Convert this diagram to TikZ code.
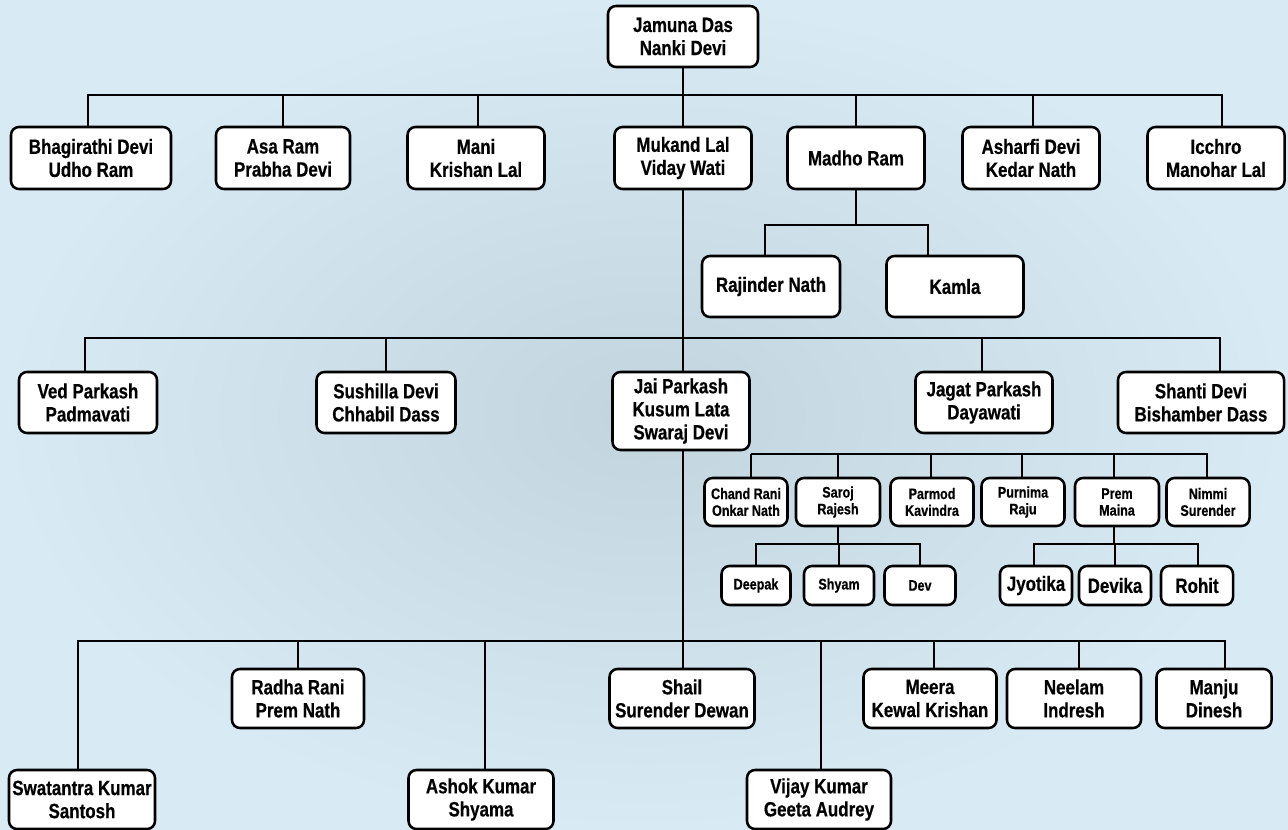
\documentclass[tikz,border=0pt]{standalone}
\usepackage{fontspec}
\setmainfont{Liberation Sans}[FakeStretch=0.82, BoldFeatures={FakeBold=0.5}]
\definecolor{bgout}{RGB}{216,234,244}
\definecolor{bgin}{RGB}{194,212,221}
\tikzset{
  box/.style={draw=black, line width=1.9pt, rounded corners=6pt, fill=white,
    align=center, inner sep=0pt, font=\bfseries\fontsize{15.5}{17.3}\selectfont},
  sbox/.style={box, font=\bfseries\fontsize{11.5}{12.6}\selectfont},
  bw/.style={minimum width=#1*0.75pt},
  bh/.style={minimum height=#1*0.75pt},
  conn/.style={draw=black, line width=1.9pt},
  sx/.style={xshift=#1*0.75pt}
}
\begin{document}
\begin{tikzpicture}[x=0.75pt,y=-0.75pt]
\useasboundingbox (0,0) rectangle (1288,830);
\shade[inner color=bgin, outer color=bgout] (0,0) rectangle (1288,830);
% generation 0
\node[box,bw=150,bh=61] (top) at (683,36.5) {Jamuna Das\\Nanki Devi};
% generation 1
\node[box,bw=160,bh=62] (bhag) at (91,158) {Bhagirathi Devi\\Udho Ram};
\node[box,bw=134,bh=62] (asa) at (283,158) {Asa Ram\\Prabha Devi};
\node[box,bw=137,bh=62] (mani) at (476,158) {Mani\\Krishan Lal};
\node[box,bw=137,bh=62] (mukand) at (683,158) {Mukand Lal\\Viday Wati};
\node[box,bw=137,bh=62] (madho) at (856,158) {Madho Ram};
\node[box,bw=137,bh=62] (asharfi) at (1031,158) {Asharfi Devi\\Kedar Nath};
\node[box,bw=137,bh=62] (icchro) at (1216,158) {Icchro\\Manohar Lal};
% Madho's children
\node[box,bw=138,bh=61] (rajinder) at (771,286.5) {Rajinder Nath};
\node[box,bw=137,bh=61] (kamla) at (955,286.5) {Kamla};
% Mukand's children
\node[box,bw=138,bh=61] (ved) at (88,402.5) {Ved Parkash\\Padmavati};
\node[box,bw=139,bh=61] (sush) at (386,402.5) {Sushilla Devi\\Chhabil Dass};
\node[box,bw=137,bh=78] (jai) at (681,411) {Jai Parkash\\Kusum Lata\\Swaraj Devi};
\node[box,bw=137,bh=61] (jagat) at (984,402.5) {Jagat Parkash\\Dayawati};
\node[box,bw=166,bh=61] (shanti) at (1201,402.5) {Shanti Devi\\Bishamber Dass};
% small row
\node[sbox,bw=83,bh=48] (chand) at (746,502) {Chand Rani\\Onkar Nath};
\node[sbox,bw=84,bh=48] (saroj) at (838,502) {Saroj\\Rajesh};
\node[sbox,bw=83,bh=48] (parmod) at (932,502) {Parmod\\Kavindra};
\node[sbox,bw=83,bh=48] (purnima) at (1023,502) {Purnima\\Raju};
\node[sbox,bw=84,bh=48] (prem) at (1117,502) {Prem\\Maina};
\node[sbox,bw=83,bh=48] (nimmi) at (1208,502) {Nimmi\\Surender};
% grandchildren
\node[sbox,bw=69,bh=39] (deepak) at (756,585.5) {Deepak};
\node[sbox,bw=70,bh=39] (shyam) at (839,585.5) {Shyam};
\node[sbox,bw=71,bh=39] (dev) at (920,585.5) {Dev};
\node[box,bw=72,bh=39] (jyotika) at (1036,585.5) {Jyotika};
\node[box,bw=72,bh=39] (devika) at (1115,585.5) {Devika};
\node[box,bw=72,bh=39] (rohit) at (1197,585.5) {Rohit};
% bottom rows
\node[box,bw=132,bh=59] (radha) at (298,698.5) {Radha Rani\\Prem Nath};
\node[box,bw=145,bh=59] (shail) at (682,698.5) {Shail\\Surender Dewan};
\node[box,bw=133,bh=59] (meera) at (930,698.5) {Meera\\Kewal Krishan};
\node[box,bw=134,bh=59] (neelam) at (1074,698.5) {Neelam\\Indresh};
\node[box,bw=115,bh=59] (manju) at (1214,698.5) {Manju\\Dinesh};
\node[box,bw=146,bh=59] (swat) at (82,799.5) {Swatantra Kumar\\Santosh};
\node[box,bw=145,bh=59] (ashok) at (481,799.5) {Ashok Kumar\\Shyama};
\node[box,bw=144,bh=59] (vijay) at (819,799.5) {Vijay Kumar\\Geeta Audrey};
% bar junctions
\coordinate (b1) at (683,95);
\coordinate (bm) at (856,225);
\coordinate (b2) at (683,338);
\coordinate (b3) at (751,454);
\coordinate (bs) at (838,544);
\coordinate (bp) at (1114,544);
\coordinate (b4) at (683,641);
% connectors
\draw[conn] (top.south) -- (b1);
\foreach \c/\s in {bhag/-3,asa/0,mani/2,mukand/0,madho/0,asharfi/2,icchro/6}
  \draw[conn] ([sx=\s]\c.north) |- (b1);
\draw[conn] (madho.south) -- (bm);
\foreach \c/\s in {rajinder/-6,kamla/-27}
  \draw[conn] ([sx=\s]\c.north) |- (bm);
\draw[conn] (mukand.south) -- (b2);
\foreach \c/\s in {ved/-3,sush/0,jai/2,jagat/-2,shanti/19}
  \draw[conn] ([sx=\s]\c.north) |- (b2);
\foreach \c/\s in {chand/5,saroj/0,parmod/-1,purnima/-1,prem/-3,nimmi/-1}
  \draw[conn] ([sx=\s]\c.north) |- (b3);
\draw[conn] (saroj.south) -- (bs);
\foreach \c/\s in {deepak/0,shyam/0,dev/0}
  \draw[conn] ([sx=\s]\c.north) |- (bs);
\draw[conn] ([sx=-3]prem.south) -- (bp);
\foreach \c/\s in {jyotika/-2,devika/0,rohit/1}
  \draw[conn] ([sx=\s]\c.north) |- (bp);
\draw[conn] ([sx=2]jai.south) -- (b4);
\foreach \c/\s in {radha/0,shail/1,meera/4,neelam/5,manju/11,swat/-4,ashok/4,vijay/2}
  \draw[conn] ([sx=\s]\c.north) |- (b4);
\end{tikzpicture}
\end{document}
